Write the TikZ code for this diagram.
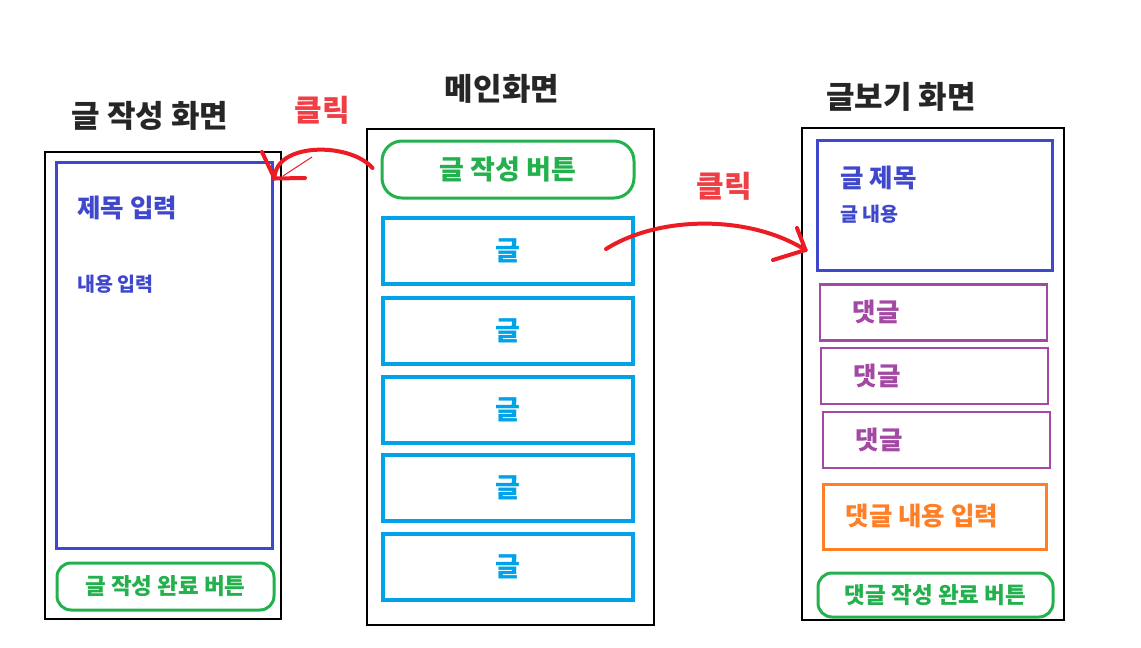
\documentclass[tikz,border=0pt]{standalone}
\usepackage{fontspec}
\setmainfont{Noto Sans CJK KR}
\definecolor{paintblue}{HTML}{3F48CC}
\definecolor{paintcyan}{HTML}{00A2E8}
\definecolor{paintgreen}{HTML}{22B14C}
\definecolor{paintpurple}{HTML}{A349A4}
\definecolor{paintorange}{HTML}{FF7F27}
\definecolor{paintred}{HTML}{ED1C24}
\begin{document}
\begin{tikzpicture}[x=1pt, y=-1pt,
    panel/.style={draw=black, line width=1.5, inner sep=0},
    title/.style={font=\fontsize{31}{36}\selectfont\bfseries, text=black!85},
    click/.style={font=\fontsize{30}{34}\selectfont\bfseries, text=paintred!85},
    frame/.style={draw=#1, line width=3, inner sep=0},
    btn/.style={draw=paintgreen, line width=3, rounded corners=16, inner sep=0,
        text=paintgreen, font=\fontsize{27}{32}\selectfont\bfseries},
    post/.style={draw=paintcyan, line width=4, inner sep=0, minimum width=250, minimum height=66,
        text=paintcyan, font=\fontsize{27}{32}\selectfont\bfseries},
    reply/.style={draw=paintpurple, line width=2.5, inner sep=0, minimum width=227, minimum height=56},
    big/.style={font=\fontsize{25.5}{30}\selectfont\bfseries},
    small/.style={font=\fontsize{19.5}{24}\selectfont\bfseries},
    scribble/.style={draw=paintred, line width=4, line cap=round, line join=round}]
    \useasboundingbox[fill=white] (0,0) rectangle (1141,648);

    \node at (150,116) [title] (t_write) {글 작성 화면};
    \node at (502,89) [title] (t_main) {메인화면};
    \node at (901,97) [title] (t_view) {글보기 화면};

    \node at (163,385.5) [panel, minimum width=236, minimum height=467] (write) {};
    \node at (164,355) [frame=paintblue, minimum width=216, minimum height=386] (form) {};
    \node at (74,208) [anchor=west, big, text=paintblue] (f_title) {제목 입력};
    \node at (74,284) [anchor=west, small, text=paintblue] (f_body) {내용 입력};
    \node at (165.5,586.5) [btn, minimum width=217, minimum height=47, rounded corners=14,
        font=\fontsize{22.5}{26}\selectfont\bfseries] (w_done) {글 작성 완료 버튼};

    \node at (510.5,377) [panel, minimum width=287, minimum height=496] (main) {};
    \node at (508,169.5) [btn, minimum width=252, minimum height=57, rounded corners=20] (new) {글 작성 버튼};
    \foreach \y [count=\i] in {251,331,410,488,567}
        \node at (508,\y) [post] (p_\i) {글};

    \node at (933,374) [panel, minimum width=262, minimum height=492] (view) {};
    \node at (934.5,205) [frame=paintblue, minimum width=235, minimum height=130] (v_post) {};
    \node at (837,178) [anchor=west, big, text=paintblue] (v_title) {글 제목};
    \node at (837,214) [anchor=west, small, text=paintblue] (v_body) {글 내용};
    \node at (933.5,312.5) [reply] (r_1) {};
    \node at (934.5,376) [reply] (r_2) {};
    \node at (936.5,440) [reply] (r_3) {};
    \node at (876,312) [big, text=paintpurple] (r_1t) {댓글};
    \node at (877,376) [big, text=paintpurple] (r_2t) {댓글};
    \node at (879,440) [big, text=paintpurple] (r_3t) {댓글};
    \node at (934.5,516.5) [frame=paintorange, minimum width=223, minimum height=65] (r_in) {};
    \node at (842,516) [anchor=west, big, text=paintorange] (r_int) {댓글 내용 입력};
    \node at (935.5,595) [btn, minimum width=235, minimum height=44, rounded corners=14,
        font=\fontsize{22.5}{26}\selectfont\bfseries] (r_done) {댓글 작성 완료 버튼};

    \node at (322,110) [click] (c_1) {클릭};
    \node at (724,186) [click] (c_2) {클릭};

    \coordinate (a1s) at ([xshift=-8, yshift=1.5]new.west);
    \coordinate (a1t) at ([xshift=1, yshift=-18]form.north east);
    \coordinate (a2s) at ([xshift=-29, yshift=2]p_1.east);
    \coordinate (a2t) at ([xshift=-10, yshift=-45]v_post.west);

    \draw[scribble] (a1s) .. controls (350,142) and (275,142) .. (a1t);
    \draw[scribble] (a1t) -- (262,152);
    \draw[scribble] (a1t) -- (305,178);
    \draw[draw=paintred, line width=1] (283,176) -- (312,157);
    \draw[scribble] (a2s) .. controls (660,215) and (750,215) .. (a2t);
    \draw[scribble] (a2t) -- (797,228);
    \draw[scribble] (a2t) -- (773,260);

\end{tikzpicture}
\end{document}
